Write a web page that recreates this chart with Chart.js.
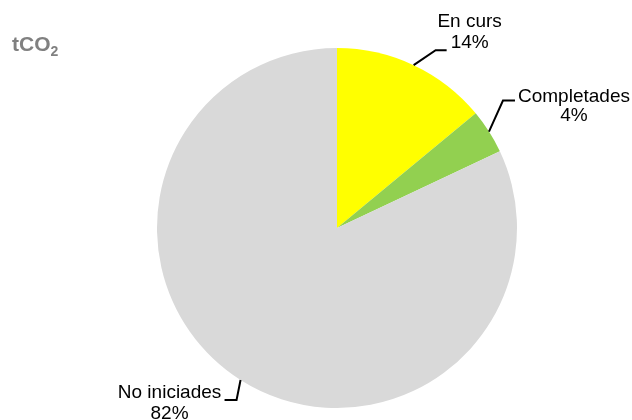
<!DOCTYPE html>
<html lang="ca">
<head>
    <meta charset="UTF-8">
    <script src="https://cdn.jsdelivr.net/npm/chart.js"></script>
    <title>tCO2</title>
    <style>
        body { margin: 0; background: #fff; }
        .titol { position: absolute; left: 12px; top: 32px; font: bold 21px "Liberation Sans", Arial, sans-serif; color: #808080; }
        .titol sub { font-size: 14px; vertical-align: -5px; }
    </style>
</head>
<body>
    <div class="titol">tCO<sub>2</sub></div>
    <canvas id="grafic" width="632" height="420"></canvas>
<script>
    var categories = ['En curs', 'Completades', 'No iniciades'];
    var percentatges = [14, 4, 82];
    var colors = ['#ffff00', '#92d050', '#d9d9d9'];

    // on va cada etiqueta respecte del punt de la vora del sector
    var guies = [
        { colze: [22, -15], fi: [33, -15], text: [56, -43], alt: 21 },
        { colze: [14, -31], fi: [26, -31], text: [85, -35], alt: 19 },
        { colze: [-4, 20], fi: [-16, 20], text: [-71, 13], alt: 21 }
    ];

    var etiquetes = {
        id: 'etiquetes',
        afterDraw(chart) {
            var c = chart.ctx;
            var arcs = chart.getDatasetMeta(0).data;
            c.save();
            c.strokeStyle = '#000';
            c.lineWidth = 2;
            c.fillStyle = '#000';
            c.font = '19px "Liberation Sans", Arial, sans-serif';
            c.textAlign = 'center';
            c.textBaseline = 'middle';
            for (var i = 0; i < arcs.length; i++) {
                var a = arcs[i];
                var mig = (a.startAngle + a.endAngle) / 2;
                var px = a.x + Math.cos(mig) * a.outerRadius;
                var py = a.y + Math.sin(mig) * a.outerRadius;
                var g = guies[i];
                c.beginPath();
                c.moveTo(px, py);
                c.lineTo(px + g.colze[0], py + g.colze[1]);
                c.lineTo(px + g.fi[0], py + g.fi[1]);
                c.stroke();
                var tx = px + g.text[0];
                var ty = py + g.text[1];
                c.fillText(categories[i], tx, ty);
                c.fillText(percentatges[i] + '%', tx, ty + g.alt);
            }
            c.restore();
        }
    };

    new Chart(document.getElementById('grafic'), {
        type: 'pie',
        data: {
            labels: categories,
            datasets: [{
                data: percentatges,
                backgroundColor: colors,
                borderWidth: 0
            }]
        },
        options: {
            responsive: false,
            animation: false,
            layout: { padding: { left: 157, right: 115, top: 48, bottom: 12 } },
            plugins: {
                legend: { display: false },
                tooltip: { enabled: false }
            }
        },
        plugins: [etiquetes]
    });
</script>
</body>
</html>
